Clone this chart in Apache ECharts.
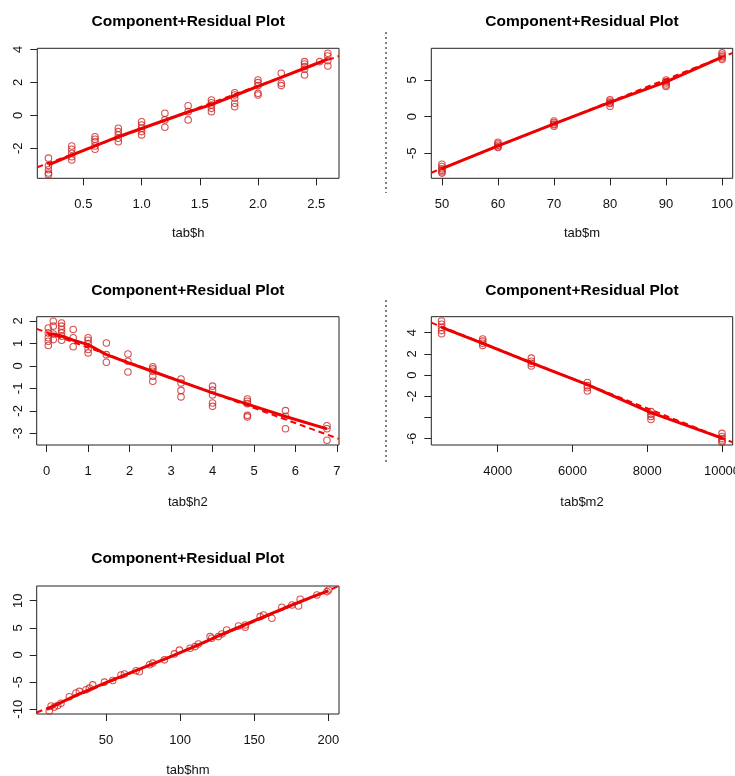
<!DOCTYPE html>
<html><head><meta charset="utf-8">
<script src="https://cdn.jsdelivr.net/npm/echarts@6/dist/echarts.min.js"></script>
<style>html,body{margin:0;padding:0;background:#fff}#c{width:735px;height:776px}</style>
</head><body><div id="c"></div>
<script>
// ---------- Panel 1: tab$h ----------
const hX = [0.2,0.2,0.2,0.2,0.2, 0.4,0.4,0.4,0.4,0.4, 0.6,0.6,0.6,0.6,0.6, 0.8,0.8,0.8,0.8,0.8,
            1.0,1.0,1.0,1.0,1.0, 1.2,1.2,1.2, 1.4,1.4,1.4, 1.6,1.6,1.6,1.6,1.6, 1.8,1.8,1.8,1.8,1.8,
            2.0,2.0,2.0,2.0,2.0, 2.2,2.2,2.2, 2.4,2.4,2.4,2.4,2.4, 2.53, 2.6,2.6,2.6,2.6];
const hY = [-2.6,-3.05,-3.3,-3.5,-3.6, -1.86,-2.06,-2.3,-2.51,-2.71, -1.3,-1.45,-1.6,-1.86,-2.06,
            -0.79,-0.99,-1.19,-1.39,-1.6, -0.39,-0.59,-0.79,-0.99,-1.19, 0.12,-0.28,-0.73, 0.58,0.22,-0.28,
            0.93,0.76,0.62,0.42,0.22, 1.37,1.23,1.03,0.73,0.52, 2.14,1.98,1.8,1.33,1.23, 2.55,1.94,1.8,
            3.25,3.11,2.95,2.79,2.44, 3.25, 3.76,3.59,3.31,2.99];
const hLowX = [0.2,0.4,0.6,0.8,1.0,1.2,1.4,1.6,1.8,2.0,2.2,2.4,2.6];
const hLowY = [-3.0,-2.42,-1.85,-1.3,-0.8,-0.3,0.2,0.65,1.2,1.75,2.3,2.85,3.4];
const hFitX = [0.104, 2.696];
const hFitY = [-3.15, 3.6];
const hXTicks = [0.5,1.0,1.5,2.0,2.5];
const hYTicks = [-2,0,2,4];

// ---------- Panel 2: tab$m ----------
const mX = [50,50,50,50,50,50, 60,60,60,60,60, 70,70,70,70,70, 80,80,80,80,80, 90,90,90,90,90, 100,100,100,100,100];
const mY = [-6.5,-6.8,-7.1,-7.3,-7.5,-7.7, -3.5,-3.7,-3.9,-4.1,-4.2, -0.6,-0.8,-1.0,-1.1,-1.3,
            2.3,2.1,1.9,1.8,1.4, 5.0,4.8,4.6,4.3,4.1, 8.7,8.4,8.2,8.0,7.8];
const mLowX = [50,60,70,80,90,100];
const mLowY = [-7.1,-4.0,-1.0,1.95,4.75,8.1];
const mFitX = [48.1, 101.9];
const mFitY = [-7.65, 8.7];
const mXTicks = [50,60,70,80,90,100];
const mYTicks = [-5,0,5];

// ---------- Panel 3: tab$h2 ----------
const h2X = [0.04,0.04,0.04,0.04,0.04, 0.16,0.16,0.16,0.16, 0.36,0.36,0.36,0.36,0.36,0.36, 0.64,0.64,0.64,
             1.0,1.0,1.0,1.0,1.0, 1.44,1.44,1.44, 1.96,1.96,1.96, 2.56,2.56,2.56,2.56,2.56,
             3.24,3.24,3.24,3.24, 4.0,4.0,4.0,4.0,4.0, 4.84,4.84,4.84,4.84,4.84, 5.76,5.76,5.76, 6.76,6.76,6.76];
const h2Y = [1.69,1.47,1.25,1.10,0.91, 1.99,1.77,1.42,1.17, 1.91,1.77,1.62,1.47,1.32,1.14, 1.62,1.25,0.85,
             1.25,1.14,0.99,0.73,0.58, 1.02,0.5,0.16, 0.53,0.21,-0.27, -0.04,-0.13,-0.24,-0.46,-0.68,
             -0.58,-0.76,-1.09,-1.38, -0.9,-1.08,-1.29,-1.65,-1.8, -1.47,-1.57,-1.68,-2.2,-2.27,
             -1.99,-2.24,-2.8, -2.66,-2.8,-3.31];
const h2LowX = [0.04,0.16,0.36,0.64,1.0,1.44,1.96,2.56,3.24,4.0,4.84,5.76,6.76];
const h2LowY = [1.38,1.42,1.33,1.15,0.95,0.5,0.15,-0.25,-0.7,-1.2,-1.7,-2.25,-2.8];
const h2FitX = [-0.24, 7.05];
const h2FitY = [1.65, -3.25];
const h2XTicks = [0,1,2,3,4,5,6,7];
const h2YTicks = [-3,-2,-1,0,1,2];

// ---------- Panel 4: tab$m2 ----------
const m2X = [2500,2500,2500,2500,2500, 3600,3600,3600,3600, 4900,4900,4900,4900, 6400,6400,6400,6400,
             8100,8100,8100,8100, 10000,10000,10000,10000,10000];
const m2Y = [5.1,4.8,4.5,4.2,3.9, 3.4,3.2,3.0,2.8, 1.6,1.3,1.1,0.85, -0.7,-1.0,-1.2,-1.5,
             -3.45,-3.7,-3.9,-4.2, -5.5,-5.8,-6.0,-6.2,-6.35];
const m2LowX = [2500,3600,4900,6400,8100,10000];
const m2LowY = [4.5,3.0,1.15,-0.9,-3.55,-5.95];
const m2FitX = [2225, 10286];
const m2FitY = [4.95, -6.35];
const m2XTicks = [4000,6000,8000,10000];
const m2YTicks = [-6,-4,-2,0,2,4];
const m2YLabels = [-6,-2,0,2,4];

// ---------- Panel 5: tab$hm ----------
const hmX = [11.7,12.9,15.1,17.4,19.6,25.2,29.7,32,36.5,38.7,41,48.9,54.5,60.1,62.4,70.3,72.5,79.3,81.5,89.4,
             96.1,99.5,106.7,110.1,112.3,120.2,121.3,125.8,128.1,131.4,139.4,143.9,143.9,154,156.3,161.9,
             168.6,175.4,181,179.9,192.3,199.1,200.2];
const hmY = [-10.3,-9.4,-9.6,-9.3,-8.9,-7.7,-7.0,-6.7,-6.4,-6.1,-5.5,-5.0,-4.7,-3.7,-3.5,-2.9,-3.1,-1.8,-1.5,-0.9,
             0.2,0.9,1.23,1.54,2.03,3.38,3.07,3.38,3.87,4.61,5.34,5.53,5.1,7.06,7.37,6.75,
             8.78,9.2,10.25,9.02,11.05,11.67,11.97];
const hmLowX = [10,30,50,70,90,110,130,150,170,190,200];
const hmLowY = [-10.0,-7.4,-5.1,-2.9,-0.7,1.6,4.0,6.3,8.6,10.8,11.8];
const hmFitX = [3.2, 207.2];
const hmFitY = [-10.6, 12.7];
const hmXTicks = [50,100,150,200];
const hmYTicks = [-10,-5,0,5,10];

const TITLE = 'Component+Residual Plot';
const FONT = '"Liberation Sans", Arial, sans-serif';

function pairs(xs, ys){ return xs.map((x,i)=>[x, ys[i]]); }

const panels = [
  {grid:{left:37.3,top:48.3,width:301.7,height:130}, xmin:0.104,xmax:2.696,ymin:-3.82,ymax:4.06,
   xt:hXTicks, xl:hXTicks, yt:hYTicks, yl:hYTicks, fmt:v=>v.toFixed(1), name:'tab$h', nameY:233.5, titleY:20,
   pts:pairs(hX,hY), low:pairs(hLowX,hLowY), fit:pairs(hFitX,hFitY)},
  {grid:{left:431.3,top:48.3,width:301.4,height:130}, xmin:48.1,xmax:101.9,ymin:-8.41,ymax:9.32,
   xt:mXTicks, xl:mXTicks, yt:mYTicks, yl:mYTicks, fmt:v=>String(v), name:'tab$m', nameY:233.5, titleY:20,
   pts:pairs(mX,mY), low:pairs(mLowX,mLowY), fit:pairs(mFitX,mFitY), garble:[32,193]},
  {grid:{left:36.7,top:316.7,width:302.3,height:128.3}, xmin:-0.24,xmax:7.05,ymin:-3.52,ymax:2.19,
   xt:h2XTicks, xl:h2XTicks, yt:h2YTicks, yl:h2YTicks, fmt:v=>String(v), name:'tab$h2', nameY:502.5, titleY:289.3,
   pts:pairs(h2X,h2Y), low:pairs(h2LowX,h2LowY), fit:pairs(h2FitX,h2FitY)},
  {grid:{left:431.3,top:316.7,width:301.4,height:128.3}, xmin:2225,xmax:10286,ymin:-6.6,ymax:5.51,
   xt:m2XTicks, xl:m2XTicks, yt:m2YTicks, yl:m2YLabels, fmt:v=>String(v), name:'tab$m2', nameY:502.5, titleY:289.3,
   pts:pairs(m2X,m2Y), low:pairs(m2LowX,m2LowY), fit:pairs(m2FitX,m2FitY), garble:[300,463]},
  {grid:{left:36.7,top:586,width:302.3,height:128}, xmin:3.2,xmax:207.2,ymin:-10.87,ymax:12.7,
   xt:hmXTicks, xl:hmXTicks, yt:hmYTicks, yl:hmYTicks, fmt:v=>String(v), name:'tab$hm', nameY:770, titleY:556.8,
   pts:pairs(hmX,hmY), low:pairs(hmLowX,hmLowY), fit:pairs(hmFitX,hmFitY)}
];

const grids=[], xAxes=[], yAxes=[], series=[], graphic=[];
panels.forEach((p,i)=>{
  grids.push(Object.assign({show:true, borderColor:'#222', borderWidth:1, backgroundColor:'transparent',
    containLabel:false, outerBoundsMode:'none'}, p.grid));
  xAxes.push({type:'value', gridIndex:i, min:p.xmin, max:p.xmax, splitLine:{show:false},
    axisLine:{show:false, onZero:false},
    axisTick:{show:true, length:7, lineStyle:{color:'#222'}, customValues:p.xt},
    axisLabel:{customValues:p.xl, formatter:p.fmt, color:'#111', fontSize:13, fontFamily:FONT, margin:20, hideOverlap:false}});
  yAxes.push({type:'value', gridIndex:i, min:p.ymin, max:p.ymax, splitLine:{show:false},
    axisLine:{show:false, onZero:false},
    axisTick:{show:true, length:7, lineStyle:{color:'#222'}, customValues:p.yt},
    axisLabel:{customValues:p.yl, rotate:90, color:'#111', fontSize:13, fontFamily:FONT, margin:12, hideOverlap:false}});
  series.push({type:'scatter', xAxisIndex:i, yAxisIndex:i, data:p.pts, symbol:'circle', symbolSize:6.5,
    itemStyle:{color:'rgba(0,0,0,0)', borderColor:'#cc2626', borderWidth:1.1}, silent:true, z:2});
  series.push({type:'line', xAxisIndex:i, yAxisIndex:i, data:p.fit, showSymbol:false, symbol:'none',
    lineStyle:{color:'#ff0000', width:2, type:[6,4]}, silent:true, z:3, clip:true});
  series.push({type:'line', xAxisIndex:i, yAxisIndex:i, data:p.low, showSymbol:false, symbol:'none',
    lineStyle:{color:'#ee0000', width:3}, silent:true, z:4, clip:true});
  const cx = p.grid.left + p.grid.width/2;
  graphic.push({type:'text', x:cx, y:p.titleY + 1.5, style:{text:TITLE, font:'bold 15.5px '+FONT, fill:'#000', textAlign:'center', textVerticalAlign:'middle'}});
  graphic.push({type:'text', x:cx, y:p.nameY, style:{text:p.name, font:'13px '+FONT, fill:'#111', textAlign:'center', textVerticalAlign:'middle'}});
  if(p.garble){
    graphic.push({type:'line', shape:{x1:386, y1:p.garble[0], x2:386, y2:p.garble[1]}, style:{stroke:'#000', lineWidth:1, lineDash:[2,3]}});
  }
});

const chart = echarts.init(document.getElementById('c'), null, {renderer:'canvas'});
chart.setOption({animation:false, backgroundColor:'#fff', grid:grids, xAxis:xAxes, yAxis:yAxes, series:series, graphic:graphic});
</script></body></html>
